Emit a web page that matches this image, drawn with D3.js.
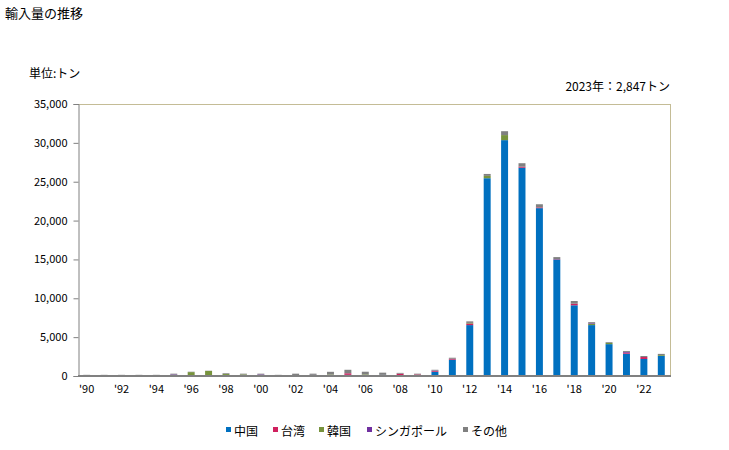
<!DOCTYPE html>
<html><head><meta charset="utf-8">
<script src="https://cdn.jsdelivr.net/npm/d3@7"></script>
<style>body{margin:0;background:#fff;} text{font-family:"Noto Sans CJK JP","Noto Sans",sans-serif;}</style>
</head><body><svg id="c" width="729" height="450"></svg>
<script>
const years = d3.range(1990, 2024);
const seriesNames = ["中国","台湾","韓国","シンガポール","その他"];
const colors = ["#0070C0","#D0205E","#77933C","#7030A0","#808080"];
const china     = [0,0,0,0,0,0,0,0,0,0,0,0,0,0,30,150,100,150,100,0,550,2100,6550,25450,30350,26800,21600,15000,9100,6550,4100,2870,2190,2600];
const taiwan    = [0,0,0,0,0,0,0,0,0,0,0,0,0,0,60,200,0,0,200,200,100,120,200,0,0,130,100,50,200,0,0,130,250,0];
const korea     = [0,0,0,0,0,0,500,650,250,200,0,0,0,0,100,0,100,0,0,0,0,0,80,300,650,0,0,0,0,170,150,0,0,100];
const singapore = [0,0,0,0,0,200,0,0,0,0,200,0,0,150,0,0,0,0,0,0,50,0,0,0,0,0,0,0,0,80,0,100,0,0];
const other     = [150,150,150,150,150,100,50,30,100,100,100,150,300,150,350,450,350,280,100,100,100,130,200,250,500,450,400,250,350,130,100,120,130,147];
const yTicks = [0,5000,10000,15000,20000,25000,30000,35000];

const svg = d3.select("#c");
const m = {l:78, r:670, t:104, b:376};
const x = d3.scaleBand().domain(years).range([m.l, m.r]).paddingInner(0.6).paddingOuter(0.3);
const y = d3.scaleLinear().domain([0,35000]).range([m.b, m.t]);

const rows = years.map((yr,i)=>({year:yr, "中国":china[i], "台湾":taiwan[i], "韓国":korea[i], "シンガポール":singapore[i], "その他":other[i]}));
const stacked = d3.stack().keys(seriesNames)(rows);

svg.append("text").attr("x",5).attr("y",18).attr("font-size",13).text("輸入量の推移");
svg.append("text").attr("x",29).attr("y",78).attr("font-size",12).text("単位:トン");
svg.append("text").attr("x",670).attr("y",91).attr("font-size",12).attr("text-anchor","end").text("2023年：2,847トン");

// border top/right
svg.append("line").attr("x1",m.l).attr("x2",m.r).attr("y1",m.t+0.5).attr("y2",m.t+0.5).attr("stroke","#C4BC96");
svg.append("line").attr("x1",m.r+0.5).attr("x2",m.r+0.5).attr("y1",m.t).attr("y2",m.b).attr("stroke","#C4BC96");

const g = svg.append("g");
stacked.forEach((s,k)=>{
  g.selectAll(null).data(s).enter().append("rect")
    .attr("x", d=>x(d.data.year))
    .attr("width", x.bandwidth())
    .attr("y", d=>y(d[1]))
    .attr("height", d=>Math.max(0, y(d[0])-y(d[1])))
    .attr("fill", colors[k]);
});

// y axis
const ya = svg.append("g").attr("transform",`translate(${m.l+0.5},0)`)
  .call(d3.axisLeft(y).tickValues(yTicks).tickSize(5).tickPadding(6).tickFormat(d3.format(",")));
ya.select(".domain").attr("stroke","#808080");
ya.selectAll(".tick line").attr("stroke","#808080");
ya.selectAll("text").attr("font-size",11).attr("fill","#000").attr("font-family","'Noto Sans CJK JP',sans-serif");

// x axis
const xa = svg.append("g").attr("transform",`translate(0,${m.b})`)
  .call(d3.axisBottom(x).tickValues(years.filter(v=>v%2===0)).tickSize(0).tickPadding(9).tickFormat(v=>"'"+String(v).slice(2)));
xa.select(".domain").attr("stroke","#808080").attr("stroke-width",2).attr("d",`M${m.l},0H${m.r+1}`);
xa.selectAll("text").attr("font-size",11).attr("fill","#000").attr("font-family","'Noto Sans CJK JP',sans-serif");

// legend
const legX = [226, 273, 319, 367, 463];
const lg = svg.append("g");
seriesNames.forEach((n,i)=>{
  lg.append("rect").attr("x",legX[i]).attr("y",427).attr("width",5).attr("height",5).attr("fill",colors[i]);
  lg.append("text").attr("x",legX[i]+8).attr("y",436).attr("font-size",12).text(n);
});
</script></body></html>
